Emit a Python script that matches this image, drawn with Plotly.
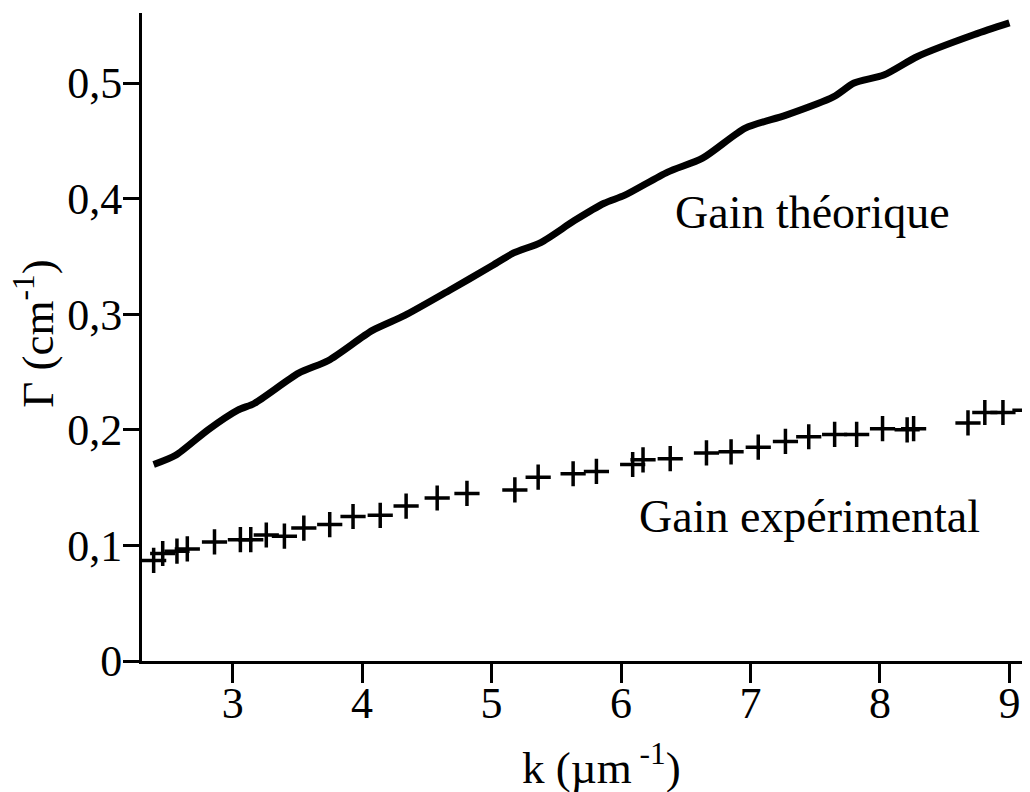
import plotly.graph_objects as go

# Theoretical gain (solid curve)
k_theo = [2.39, 2.56, 2.81, 3.04, 3.17, 3.51, 3.74, 4.08, 4.33, 4.68, 4.99, 5.17, 5.38,
          5.64, 5.87, 6.03, 6.36, 6.63, 6.96, 7.27, 7.64, 7.80, 8.03, 8.29, 8.73, 9.00]
gain_theo = [0.170, 0.178, 0.200, 0.217, 0.223, 0.249, 0.260, 0.286, 0.299, 0.321, 0.341,
             0.353, 0.362, 0.381, 0.396, 0.403, 0.423, 0.435, 0.461, 0.472, 0.488, 0.500,
             0.507, 0.523, 0.542, 0.552]

# Experimental gain (crosses)
k_exp = [2.39, 2.46, 2.57, 2.65, 2.86, 3.06, 3.14, 3.26, 3.40, 3.55, 3.75, 3.93, 4.14,
         4.34, 4.58, 4.81, 5.18, 5.36, 5.63, 5.81, 6.09, 6.17, 6.38, 6.66, 6.85, 7.06,
         7.27, 7.45, 7.65, 7.82, 8.02, 8.21, 8.26, 8.68, 8.81, 8.95, 9.12]
gain_exp = [0.087, 0.093, 0.095, 0.097, 0.103, 0.105, 0.105, 0.109, 0.108, 0.115, 0.118,
            0.125, 0.126, 0.134, 0.141, 0.145, 0.148, 0.159, 0.162, 0.164, 0.170, 0.174,
            0.175, 0.180, 0.181, 0.185, 0.190, 0.194, 0.196, 0.196, 0.201, 0.200, 0.201,
            0.206, 0.215, 0.215, 0.217]

x_ticks = [3, 4, 5, 6, 7, 8, 9]
x_ticktext = ["3", "4", "5", "6", "7", "8", "9"]
y_ticks = [0, 0.1, 0.2, 0.3, 0.4, 0.5]
y_ticktext = ["0", "0,1", "0,2", "0,3", "0,4", "0,5"]

FONT = "Liberation Serif, Times New Roman, serif"

fig = go.Figure()
fig.add_trace(go.Scatter(x=k_theo, y=gain_theo, mode="lines",
                         line=dict(color="black", width=7, shape="spline", smoothing=0.7),
                         name="Gain théorique", showlegend=False))
fig.add_trace(go.Scatter(x=k_exp, y=gain_exp, mode="markers",
                         marker=dict(symbol="cross-thin", size=18,
                                     line=dict(color="black", width=3.5)),
                         name="Gain expérimental", showlegend=False))

fig.add_annotation(x=6.40, y=0.388, xref="x", yref="y", text="Gain théorique",
                   showarrow=False, xanchor="left", yanchor="middle",
                   font=dict(family=FONT, size=46, color="black"))
fig.add_annotation(x=6.12, y=0.1254, xref="x", yref="y", text="Gain expérimental",
                   showarrow=False, xanchor="left", yanchor="middle",
                   font=dict(family=FONT, size=46, color="black"))

# Axis titles placed as annotations for exact positioning
fig.add_annotation(x=(597 - 142) / 880, y=-0.160, xref="paper", yref="paper",
                   text="k (µm<sup> -1</sup>)", showarrow=False,
                   xanchor="center", yanchor="middle",
                   font=dict(family=FONT, size=45, color="black"))
fig.add_annotation(x=(36 - 142) / 880, y=0.505, xref="paper", yref="paper",
                   text="Γ (cm<sup>-1</sup>)", showarrow=False, textangle=-90,
                   xanchor="center", yanchor="middle",
                   font=dict(family=FONT, size=45, color="black"))

fig.update_layout(
    width=1022, height=784,
    margin=dict(l=134, r=0, t=5, b=131),
    paper_bgcolor="white", plot_bgcolor="white",
    font=dict(family=FONT, size=44, color="black"),
    xaxis=dict(range=[2.3, 9.159], tickvals=x_ticks, ticktext=x_ticktext,
               showgrid=False, zeroline=False, showline=True, linecolor="black",
               linewidth=3, ticks="outside", ticklen=19, tickwidth=3, tickcolor="black",
               tickfont=dict(family=FONT, size=44), automargin=False,
               ticklabelstandoff=-18),
    yaxis=dict(range=[0, 0.5606], tickvals=y_ticks, ticktext=y_ticktext,
               showgrid=False, zeroline=False, showline=True, linecolor="black",
               linewidth=3, ticks="outside", ticklen=16, tickwidth=3, tickcolor="black",
               tickfont=dict(family=FONT, size=44), automargin=False,
               ticklabelstandoff=-8),
)

fig.write_html("out.html")
